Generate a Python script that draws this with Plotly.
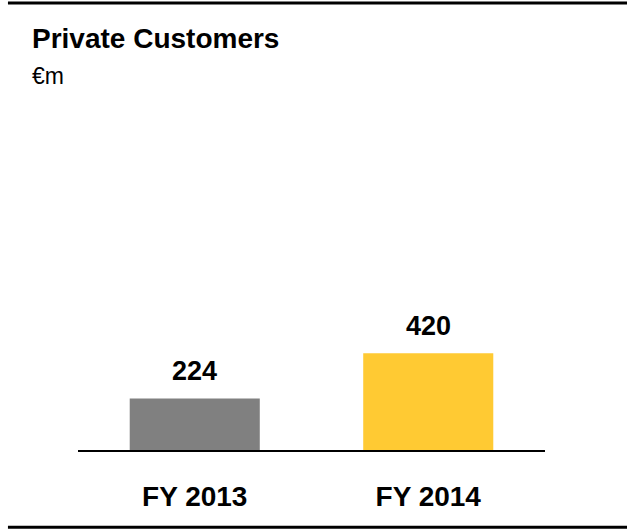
import plotly.graph_objects as go

categories = ["FY 2013", "FY 2014"]
values = [224, 420]
colors = ["#808080", "#FFCA33"]

fig = go.Figure()
fig.add_trace(go.Bar(
    x=categories, y=values,
    marker=dict(color=colors, line=dict(width=0)),
    width=0.557,
    hoverinfo="skip",
))

# value labels above bars
for cat, val in zip(categories, values):
    fig.add_annotation(x=cat, y=val, text="<b>%d</b>" % val,
                       showarrow=False, yanchor="middle", yshift=27,
                       font=dict(family="Liberation Sans", size=27, color="black"))

# plot area: x 78..545, y 100..450 in pixels
fig.update_layout(
    width=627, height=530,
    margin=dict(l=78, r=82, t=100, b=80),
    paper_bgcolor="white", plot_bgcolor="white",
    showlegend=False,
    font=dict(family="Liberation Sans", color="black"),
)
fig.update_xaxes(
    showline=True, linecolor="black", linewidth=2,
    showgrid=False, ticks="",
    tickfont=dict(family="Liberation Sans", size=28, color="black", weight="bold"),
    ticklabelstandoff=20,
)
fig.update_yaxes(visible=False, range=[0, 1520])

# header and footer rules
fig.add_shape(type="line", xref="paper", yref="paper",
              x0=-0.15, x1=1.2, y0=1.277, y1=1.277,
              line=dict(color="black", width=3))
fig.add_shape(type="line", xref="paper", yref="paper",
              x0=-0.15, x1=1.2, y0=-0.221, y1=-0.221,
              line=dict(color="black", width=3))

fig.add_annotation(text="<b>Private Customers</b>", xref="paper", yref="paper",
                   x=-0.1028, y=1.175, xanchor="left", yanchor="middle",
                   showarrow=False, font=dict(family="Liberation Sans", size=28, color="black"))
fig.add_annotation(text="€m", xref="paper", yref="paper",
                   x=-0.1028, y=1.0686, xanchor="left", yanchor="middle",
                   showarrow=False, font=dict(family="Liberation Sans", size=23, color="black"))

fig.write_html("out.html", config={"displayModeBar": False},
               post_script="document.body.style.margin='0';")
